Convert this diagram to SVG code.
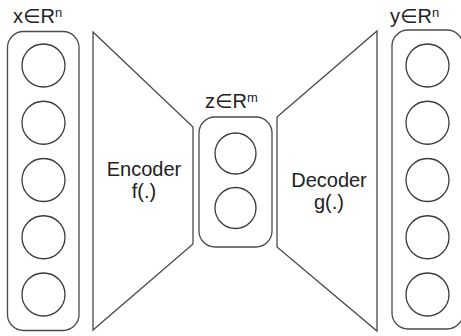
<svg xmlns="http://www.w3.org/2000/svg" width="461" height="336" viewBox="0 0 461 336">
  <style>
    .box { fill: none; stroke: #4a4a4a; stroke-width: 1.3; }
    .unit { fill: none; stroke: #3a3a3a; stroke-width: 1.3; }
    .trap { fill: none; stroke: #4a4a4a; stroke-width: 1.3; stroke-linejoin: miter; }
    .lbl { font-family: "Liberation Sans", "DejaVu Sans", sans-serif; fill: #222; }
    .big { font-size: 20px; text-anchor: middle; }
    .set { font-size: 20px; }
    .sup { font-size: 13px; }
  </style>
  <rect width="461" height="336" fill="#fff"/>

  <!-- input layer x -->
  <g id="input">
    <rect class="box" x="7.5" y="31.5" width="71.5" height="299" rx="16"/>
    <circle class="unit" cx="43.5" cy="65.5" r="21.5"/>
    <circle class="unit" cx="43.5" cy="122.75" r="21.5"/>
    <circle class="unit" cx="43.5" cy="180" r="21.5"/>
    <circle class="unit" cx="43.5" cy="237.25" r="21.5"/>
    <circle class="unit" cx="43.5" cy="294.5" r="21.5"/>
    <text class="lbl set" x="13" y="23">x∈R<tspan class="sup" dy="-6">n</tspan></text>
  </g>

  <!-- encoder -->
  <g id="encoder">
    <polygon class="trap" points="93,32 193,127 193,244 93,330"/>
    <text class="lbl big" x="144" y="176">Encoder</text>
    <text class="lbl big" x="144" y="198">f(.)</text>
  </g>

  <!-- latent code z -->
  <g id="latent">
    <rect class="box" x="199" y="117" width="73" height="130" rx="16"/>
    <circle class="unit" cx="235.5" cy="153.5" r="20.5"/>
    <circle class="unit" cx="235.5" cy="208" r="20.5"/>
    <text class="lbl set" x="205" y="108">z∈R<tspan class="sup" dy="-6">m</tspan></text>
  </g>

  <!-- decoder -->
  <g id="decoder">
    <polygon class="trap" points="277,117 377,31 377,331 277,247"/>
    <text class="lbl big" x="329" y="187">Decoder</text>
    <text class="lbl big" x="329" y="209">g(.)</text>
  </g>

  <!-- output layer y -->
  <g id="output">
    <rect class="box" x="392" y="30" width="71" height="299" rx="16"/>
    <circle class="unit" cx="427.5" cy="65.5" r="21.5"/>
    <circle class="unit" cx="427.5" cy="122.75" r="21.5"/>
    <circle class="unit" cx="427.5" cy="180" r="21.5"/>
    <circle class="unit" cx="427.5" cy="237.25" r="21.5"/>
    <circle class="unit" cx="427.5" cy="294.5" r="21.5"/>
    <text class="lbl set" x="390" y="23">y∈R<tspan class="sup" dy="-6">n</tspan></text>
  </g>

  <g id="connectors"></g>
</svg>
